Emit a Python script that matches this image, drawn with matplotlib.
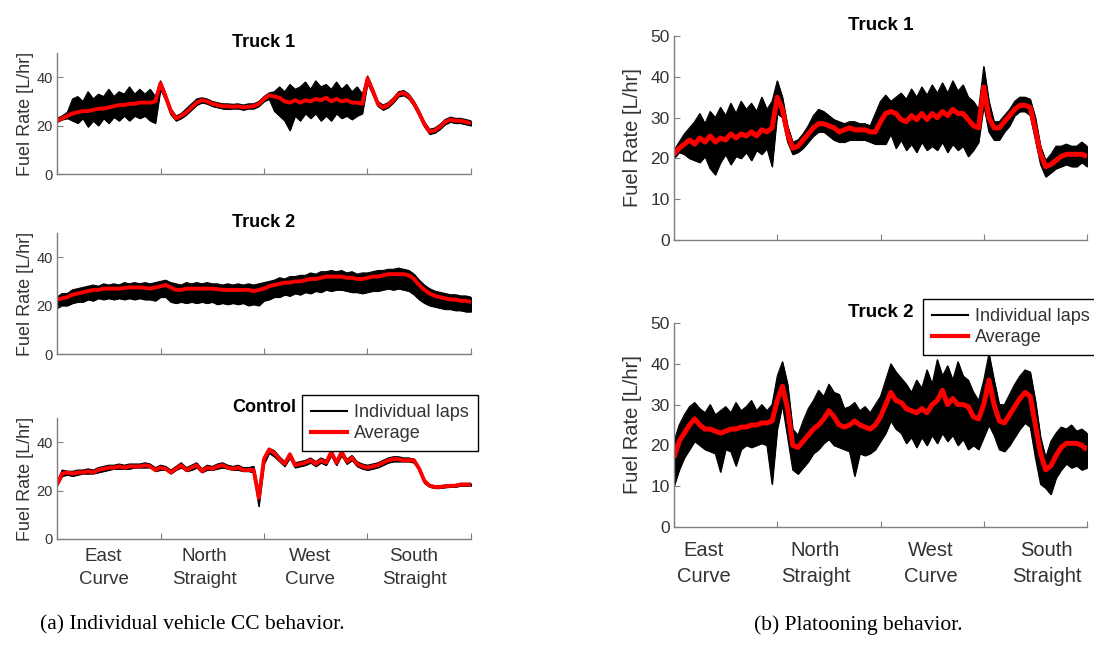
import numpy as np
import matplotlib.pyplot as plt
from matplotlib.lines import Line2D

plt.rcParams['font.family'] = ['Liberation Sans', 'DejaVu Sans']

# lap position, one unit per track section
dist = np.linspace(0, 4, 81)
sections = ['East\nCurve', 'North\nStraight', 'West\nCurve', 'South\nStraight']

# (a) individual vehicle CC: Truck 1
l1_avg = [22, 23, 24, 25, 25.5, 26, 26, 26.5, 27, 27, 27.5, 28, 28.5, 28.5, 29, 29, 29.5, 29.5, 29.5, 30,
          37.5, 32, 26, 23, 24, 25.5, 27.5, 29.5, 30.5, 30, 29, 28.5, 28, 28, 27.8, 28, 27.5, 27.8, 28, 29,
          31, 32.5, 32, 31.5, 30, 29.5, 30.5, 29.5, 30.5, 30, 31, 30.5, 31.5, 30, 31, 30, 30.5, 29.5, 29.5, 29,
          39.5, 34.5, 29, 27.5, 28.5, 30.5, 33, 33.5, 32, 29, 25, 20.5, 17.5, 18, 19.5, 21.5, 22.5, 22, 22, 21.5,
          21]
l1_hi = [23, 24, 25.5, 31, 32, 30, 34, 31, 33, 32, 35, 32, 34, 33, 36, 33, 35, 33, 35, 32,
         38.5, 33, 27, 24, 25, 27, 29, 31, 31.5, 31, 30, 29.5, 29, 29, 28.8, 29, 28.5, 29, 29, 30,
         32, 33.5, 34, 36, 34, 37, 35, 36, 38, 35, 38.5, 36, 37, 35, 38, 35, 37, 34, 36, 33,
         40.5, 35.5, 30, 28.5, 29.5, 31.5, 34, 34.5, 33, 30, 26, 21.5, 18.5, 19, 20.5, 22.5, 23.5, 23, 23, 22.5,
         22]
l1_lo = [21.5, 22.5, 23, 22, 21, 23, 19.5, 22, 20, 23, 21, 23.5, 22, 24, 22, 24, 23, 24, 22, 21,
         35, 30.5, 24.5, 22, 23, 24.5, 26.5, 28.5, 29.5, 29, 28, 27.5, 27, 26.8, 27, 27, 26.5, 27, 27, 28,
         30, 31, 26, 24, 22, 18, 24, 22, 25, 23, 25, 22, 24, 22, 25, 23, 24, 22.5, 24, 25,
         37.5, 33, 28, 26.5, 27.5, 29.5, 32, 32.5, 31, 28, 24, 19.5, 16.5, 17, 18.5, 20.5, 21.5, 21, 21, 20.5,
         20]

# (a) Truck 2
l2_avg = [22.5, 23, 23.5, 24.5, 25, 25.5, 26, 26.5, 26.5, 27, 27, 27, 27, 27.3, 27.5, 27.5, 27.5, 27.3, 27, 27.5,
          28, 28.5, 27.5, 26.5, 26.5, 27, 27, 27, 27, 27, 27, 26.8, 26.5, 26.5, 26.5, 26.5, 26.5, 26.5, 26, 26.5,
          27, 28, 28.5, 29, 29.5, 29.5, 30, 30, 30.5, 31, 31, 31.5, 32, 32, 32, 32, 31.5, 31.5, 31, 31,
          31.5, 32, 32, 32.5, 33, 33, 33, 33, 32.5, 31, 28.5, 26.5, 25, 24, 23.5, 23, 22.5, 22.5, 22, 22,
          21.5]
l2_hi = [23.5, 25, 25, 26.5, 27, 27.5, 28, 28.5, 28, 29, 28.5, 29, 28.5, 29.5, 29, 29.5, 29, 29.5, 29, 29.5,
         30, 30.5, 29.5, 29, 28.5, 29.5, 29, 29.5, 29, 29.5, 29, 29, 28.5, 29, 28.5, 29, 28.5, 29, 28.5, 29,
         29.5, 30, 30.5, 31.5, 31, 32, 32, 32.5, 32.5, 33.5, 33, 34, 34, 34.5, 34, 34.5, 33.5, 34, 33, 33.5,
         33.5, 34, 34.5, 34.5, 35, 35, 35.5, 35, 34.5, 33, 30.5, 28.5, 27, 26, 25.5, 25, 24.5, 24.5, 24, 24,
         23.5]
l2_lo = [19, 20, 20, 21, 21.5, 21.5, 22.5, 22, 23, 22.5, 23, 22.5, 23, 22.5, 23, 22.5, 23, 22.5, 22.5, 22,
         23.5, 23.5, 21.5, 21, 21.5, 21, 21.5, 21, 21.5, 21, 21.5, 20.5, 21, 20.5, 21, 20.5, 21, 20, 20.5, 20,
         22, 22.5, 23.5, 23.5, 24.5, 24, 25, 24.5, 25.5, 25, 26, 25.5, 26.5, 26, 26.5, 26.5, 26, 25.5, 25.5, 25,
         25.5, 26, 26, 26.5, 27, 26.5, 27, 26.5, 26, 24.5, 22.5, 21, 20, 19.5, 19, 18.5, 18.5, 18, 18, 17.5,
         17.5]

# (a) Control
c_avg = [22.5, 27, 27.5, 27, 27.5, 27.5, 28, 27.5, 28.5, 29, 29.5, 29.5, 30, 29.5, 30, 30, 30, 30.5, 30, 28.5,
         29.5, 29, 27.5, 29, 30.5, 28.5, 29.5, 30.5, 28, 29.5, 29, 30, 30.5, 29.5, 29, 29.5, 28.5, 28.5, 28.5, 17,
         33, 37, 35.5, 33, 31, 35, 30.5, 31, 31.5, 32.5, 31, 32.5, 31.5, 36, 31.5, 36, 32, 33.5, 31, 30,
         29.5, 30, 30.5, 31.5, 32.5, 33, 33, 32.5, 32.5, 32.5, 29, 24, 22, 21.5, 21.5, 21.8, 22, 22, 22.5, 22.5,
         22.5]
c_hi = [23.5, 28.5, 28, 28, 28.5, 28.5, 29, 28.5, 29.5, 30, 30.5, 30.5, 31, 30.5, 31, 31, 31, 31.5, 31, 29.5,
        30.5, 30, 28.5, 30, 31.5, 29.5, 30.5, 31.5, 29, 30.5, 30, 31, 31.5, 30.5, 30, 30.5, 29.5, 29.5, 30, 19,
        34, 37.5, 36.5, 34, 32, 35.5, 31.5, 32, 32.5, 33.5, 32, 33.5, 32.5, 36.5, 32.5, 36.5, 33, 34.5, 32, 31,
        30.5, 31, 31.5, 32.5, 33.5, 34, 34, 33.5, 33.5, 33, 29.5, 24.5, 22.5, 22, 22, 22.3, 22.5, 22.5, 23, 23,
        23]
c_lo = [22, 26, 26.5, 26, 26.5, 27, 27, 27, 27.5, 28, 28.5, 29, 29, 29, 29, 29.5, 29.5, 29.5, 29.5, 28,
        28.5, 28.5, 27, 28.5, 29.5, 28, 28.5, 29.5, 27.5, 28.5, 28.5, 29, 29.5, 29, 28.5, 28.5, 28, 28, 27.5, 13.5,
        31, 35.5, 34, 32, 30, 33.5, 29.5, 30, 30.5, 31.5, 30, 31.5, 30.5, 34.5, 30.5, 34.5, 31, 32.5, 30, 29,
        28.5, 29, 29.5, 30.5, 31.5, 32, 32, 32, 32, 31.5, 28.5, 23, 21.5, 21, 21, 21.3, 21.5, 21.5, 22, 22,
        22]

# (b) platooning: Truck 1
r1_avg = [21, 22.5, 23.5, 24.5, 23.5, 25, 24, 25.5, 24, 25, 24.5, 26, 25, 26, 25.5, 26.5, 25.5, 27, 26.5, 27.5,
          35, 32, 26, 22.5, 23, 24.5, 26, 27.5, 28.5, 28.5, 28, 27.5, 26.5, 27, 27.5, 27, 27, 27, 26.5, 26.5,
          29, 31, 31.5, 31, 29.5, 29, 30.5, 29.5, 31, 29.5, 31, 30, 31.5, 30.5, 32, 31, 31, 29.5, 28, 27.5,
          37.5, 30, 27.5, 27.5, 29, 30.5, 32, 33, 33, 32.5, 27, 21, 18, 18.5, 19.5, 20.5, 21, 21, 21, 21,
          20.5]
r1_hi = [22, 24, 26, 27.5, 29, 31, 28.5, 31.5, 30, 32.5, 30.5, 33.5, 31, 34, 32, 33.5, 31.5, 35, 32, 34,
         39, 35, 28, 24, 24.5, 26, 28, 30.5, 32, 31.5, 30.5, 29.5, 29, 28.5, 29, 29, 28.5, 28.5, 28, 31,
         34, 35.5, 34, 35, 36, 34.5, 37, 35, 37.5, 35.5, 38, 36, 38.5, 36, 39, 36.5, 38, 35, 34, 32,
         42.5, 34, 29, 29, 30.5, 32, 34, 35, 35, 34.5, 30, 23, 19.5, 21, 23, 23, 23.5, 23, 23, 24,
         23]
r1_lo = [20, 21.5, 21, 20, 19.5, 19, 20.5, 17.5, 16, 19, 21, 18.5, 20.5, 20, 21.5, 19.5, 22, 21, 22.5, 18,
         31, 30, 24, 21, 21.5, 22.5, 24, 25.5, 26.5, 26.5, 25.5, 24.5, 24, 24, 24.5, 24.5, 24.5, 24.5, 24, 23.5,
         23.5, 23.5, 26, 22.5, 24.5, 22, 23.5, 21.5, 24, 22, 23, 22, 24, 21.5, 23.5, 22, 23, 20.5, 22, 24,
         33, 26.5, 24.5, 24.5, 26.5, 28, 30.5, 31.5, 31.5, 30.5, 24.5, 18.5, 15.5, 16.5, 17.5, 18, 18.5, 18, 18, 19,
         18]

# (b) Truck 2
r2_avg = [17, 21, 23, 25, 26.5, 25, 24, 24, 23.5, 23, 23.5, 24, 24, 24.5, 24.5, 25, 25, 25.5, 25.5, 26,
          31, 34.5, 29, 20, 19.5, 21, 22.5, 24, 25, 26.5, 28.5, 27, 25, 24.5, 25, 26, 25, 24.5, 24, 25,
          27, 30, 33, 31, 30.5, 29, 28.5, 28, 29, 28, 30, 31, 33.5, 30, 31.5, 30, 30, 29.5, 27, 26.5,
          30, 36, 30, 26, 25.5, 27.5, 29.5, 31.5, 33, 32, 25, 18, 14, 15, 17.5, 19.5, 20.5, 20.5, 20.5, 20,
          19]
r2_hi = [21, 25, 27.5, 29.5, 30.5, 29, 28, 30, 27.5, 28.5, 29.5, 28, 30.5, 28.5, 29.5, 31, 28.5, 30, 28.5, 30,
         37, 40.5, 35, 24, 22.5, 26, 29, 31, 33.5, 32, 35, 33, 32.5, 29, 29.5, 30.5, 28.5, 29.5, 28, 30,
         32, 36, 40, 38, 36.5, 35, 33, 36, 34, 38.5, 35, 41, 37, 39.5, 36, 40.5, 37, 36, 33, 31,
         36, 42.5, 36, 30, 30, 32.5, 35, 37, 38.5, 38, 31, 22, 17, 21, 23, 24.5, 24, 25, 23.5, 24,
         23]
r2_lo = [10, 14, 17, 19, 21, 20, 19, 18.5, 18, 13.5, 19, 18.5, 15, 19, 20, 19.5, 20, 20.5, 20, 10.5,
         24, 30, 22, 14, 13, 14.5, 16, 18, 19, 20.5, 21.5, 20, 19.5, 19, 18.5, 12.5, 18, 17.5, 18, 19,
         21, 23, 26, 24, 23, 20.5, 22, 19.5, 22, 20, 22.5, 20.5, 23, 21, 22.5, 20, 21.5, 19, 20, 19,
         22, 25, 22.5, 19, 18.5, 20, 22, 24, 25.5, 24.5, 17, 10.5, 9.5, 8, 12, 14, 15.5, 14.5, 15, 14,
         14.5]

GREY = '#7f7f7f'
TXT = '#333333'
W, H = 1094, 648

fig = plt.figure(figsize=(W / 100, H / 100), dpi=100)


def panel(rect, title, avg, hi, lo, yticks, sz, red_lw, label_pos=None):
    left, top, right, bottom = rect
    ax = fig.add_axes([left / W, 1 - bottom / H, (right - left) / W, (bottom - top) / H])
    ax.fill_between(dist, lo, hi, color='black', lw=0.7)
    ax.plot(dist, hi, color='black', lw=0.8)
    ax.plot(dist, lo, color='black', lw=0.8)
    ax.plot(dist, avg, color='#ff0000', lw=red_lw, solid_capstyle='butt')
    ax.set_xlim(0, 4)
    ax.set_ylim(0, 50)
    ax.set_yticks(yticks)
    ax.set_xticks([0, 1, 2, 3, 4])
    ax.set_xticklabels([])
    for s in ['top', 'right']:
        ax.spines[s].set_visible(False)
    for s in ['left', 'bottom']:
        ax.spines[s].set_color(GREY)
        ax.spines[s].set_linewidth(1.0)
    ax.tick_params(which='major', direction='in', length=4, color=GREY,
                   labelsize=sz['tick'], labelcolor=TXT, pad=3)
    ax.set_ylabel('Fuel Rate [L/hr]', fontsize=sz['ylab'], color=TXT, labelpad=sz['ylpad'])
    ax.set_title(title, fontsize=sz['title'], fontweight='bold', pad=4)
    if label_pos is not None:
        ax.set_xticks(label_pos, sections, minor=True)
        ax.tick_params(which='minor', length=0, labelsize=sz['cat'], labelcolor=TXT, pad=sz['catpad'])
        for t in ax.get_xticklabels(minor=True):
            t.set_linespacing(1.45)
    return ax


size_a = {'tick': 10.5, 'ylab': 13, 'ylpad': 2, 'title': 13, 'cat': 13.5, 'catpad': 6.5}
size_b = {'tick': 12.5, 'ylab': 14.5, 'ylpad': 6, 'title': 13.5, 'cat': 14.5, 'catpad': 10}

panel((57, 53, 471, 174), 'Truck 1', l1_avg, l1_hi, l1_lo, [0, 20, 40], size_a, 2.8)
panel((57, 233, 471, 354), 'Truck 2', l2_avg, l2_hi, l2_lo, [0, 20, 40], size_a, 2.8)
ax_c = panel((57, 418, 471, 539), 'Control', c_avg, c_hi, c_lo, [0, 20, 40], size_a, 2.8,
             [0.45, 1.42, 2.44, 3.45])
panel((674, 36, 1087, 240), 'Truck 1', r1_avg, r1_hi, r1_lo, [0, 10, 20, 30, 40, 50], size_b, 3.6)
ax_r = panel((674, 323, 1087, 527), 'Truck 2', r2_avg, r2_hi, r2_lo, [0, 10, 20, 30, 40, 50], size_b, 3.6,
             [0.29, 1.37, 2.49, 3.61])

handles = [Line2D([], [], color='black', lw=1.5), Line2D([], [], color='#ff0000', lw=3)]
names = ['Individual laps', 'Average']
for ax, (lx, ly) in [(ax_c, (302, 395)), (ax_r, (923, 299))]:
    leg = ax.legend(handles, names, loc='upper left', bbox_to_anchor=(lx / W, 1 - ly / H),
                    bbox_transform=fig.transFigure, fontsize=13, frameon=True, fancybox=False,
                    framealpha=1, edgecolor='black', borderaxespad=0, borderpad=0.5,
                    handlelength=2.0, handletextpad=0.4, labelspacing=0.22)
    leg.get_frame().set_linewidth(1.0)
    for t in leg.get_texts():
        t.set_color(TXT)

fig.text(192 / W, 1 - 625 / H, '(a) Individual vehicle CC behavior.', family='Liberation Serif',
         fontsize=15.5, ha='center', va='center')
fig.text(858 / W, 1 - 625 / H, '(b) Platooning behavior.', family='Liberation Serif',
         fontsize=15.5, ha='center', va='center')

fig.savefig('out.png', dpi=100)
